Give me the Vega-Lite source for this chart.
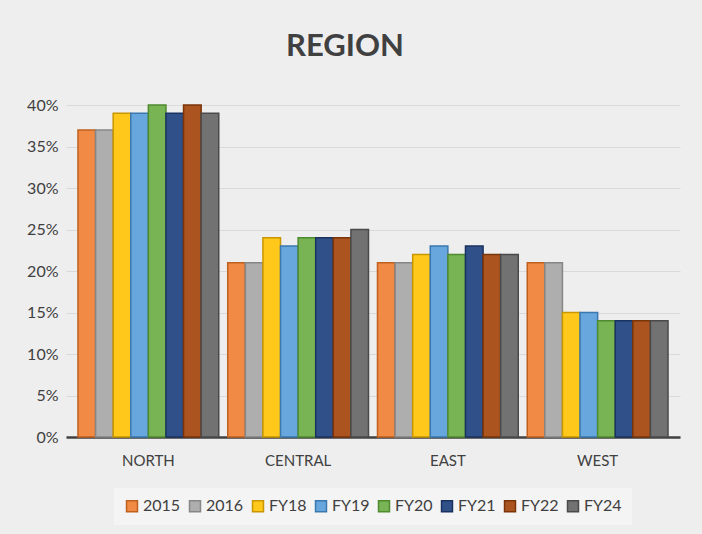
{
  "$schema": "https://vega.github.io/schema/vega-lite/v6.json",
  "width": 702,
  "height": 534,
  "autosize": {"type": "fit", "contains": "padding"},
  "padding": {"left": 26, "right": 22, "top": 31, "bottom": 9},
  "background": "#eeeeee",
  "title": {"text": "REGION", "fontSize": 31, "font": "Lato", "fontWeight": "bold", "color": "#404040", "offset": 34, "dx": -28},
  "data": {"values": [
    {"region": "NORTH", "year": "2015", "v": 0.37},
    {"region": "NORTH", "year": "2016", "v": 0.37},
    {"region": "NORTH", "year": "FY18", "v": 0.39},
    {"region": "NORTH", "year": "FY19", "v": 0.39},
    {"region": "NORTH", "year": "FY20", "v": 0.40},
    {"region": "NORTH", "year": "FY21", "v": 0.39},
    {"region": "NORTH", "year": "FY22", "v": 0.40},
    {"region": "NORTH", "year": "FY24", "v": 0.39},
    {"region": "CENTRAL", "year": "2015", "v": 0.21},
    {"region": "CENTRAL", "year": "2016", "v": 0.21},
    {"region": "CENTRAL", "year": "FY18", "v": 0.24},
    {"region": "CENTRAL", "year": "FY19", "v": 0.23},
    {"region": "CENTRAL", "year": "FY20", "v": 0.24},
    {"region": "CENTRAL", "year": "FY21", "v": 0.24},
    {"region": "CENTRAL", "year": "FY22", "v": 0.24},
    {"region": "CENTRAL", "year": "FY24", "v": 0.25},
    {"region": "EAST", "year": "2015", "v": 0.21},
    {"region": "EAST", "year": "2016", "v": 0.21},
    {"region": "EAST", "year": "FY18", "v": 0.22},
    {"region": "EAST", "year": "FY19", "v": 0.23},
    {"region": "EAST", "year": "FY20", "v": 0.22},
    {"region": "EAST", "year": "FY21", "v": 0.23},
    {"region": "EAST", "year": "FY22", "v": 0.22},
    {"region": "EAST", "year": "FY24", "v": 0.22},
    {"region": "WEST", "year": "2015", "v": 0.21},
    {"region": "WEST", "year": "2016", "v": 0.21},
    {"region": "WEST", "year": "FY18", "v": 0.15},
    {"region": "WEST", "year": "FY19", "v": 0.15},
    {"region": "WEST", "year": "FY20", "v": 0.14},
    {"region": "WEST", "year": "FY21", "v": 0.14},
    {"region": "WEST", "year": "FY22", "v": 0.14},
    {"region": "WEST", "year": "FY24", "v": 0.14}
  ]},
  "mark": {"type": "bar", "strokeWidth": 1.5},
  "encoding": {
    "x": {"field": "region", "type": "nominal", "sort": ["NORTH", "CENTRAL", "EAST", "WEST"],
      "scale": {"paddingInner": 0.06, "paddingOuter": 0.08},
      "axis": {"title": null, "labelAngle": 0, "labelFontSize": 15, "labelFont": "Lato", "labelColor": "#404040", "domainColor": "#404040", "domainWidth": 2.5, "ticks": false, "labelPadding": 16}},
    "xOffset": {"field": "year", "type": "nominal"},
    "y": {"field": "v", "type": "quantitative",
      "scale": {"domain": [0, 0.4], "nice": false},
      "axis": {"title": null, "format": ".0%", "values": [0, 0.05, 0.1, 0.15, 0.2, 0.25, 0.3, 0.35, 0.4], "labelFontSize": 16, "labelFont": "Lato", "labelColor": "#404040", "domain": false, "ticks": false, "gridColor": "#d9d9d9", "labelPadding": 8}},
    "color": {"field": "year", "type": "nominal",
      "scale": {"domain": ["2015", "2016", "FY18", "FY19", "FY20", "FY21", "FY22", "FY24"],
        "range": ["#F08A45", "#AEAEAE", "#FFC81A", "#68A6DE", "#78B454", "#2F5089", "#AB5420", "#727272"]},
      "legend": {"title": null, "orient": "bottom", "direction": "horizontal", "symbolType": "square", "symbolSize": 120, "symbolStrokeWidth": 1.5, "labelFontSize": 16, "labelFont": "Lato", "labelColor": "#404040", "labelOffset": 3, "columnPadding": 5, "fillColor": "#f4f4f4", "padding": 10, "offset": 20}},
    "stroke": {"field": "year", "type": "nominal",
      "scale": {"domain": ["2015", "2016", "FY18", "FY19", "FY20", "FY21", "FY22", "FY24"],
        "range": ["#C0601E", "#868686", "#C89600", "#3A78B0", "#4E8A2F", "#1A3260", "#7A3408", "#4A4A4A"]},
      "legend": null}
  },
  "config": {"view": {"stroke": null}, "legend": {"layout": {"bottom": {"anchor": "middle"}}}}
}
